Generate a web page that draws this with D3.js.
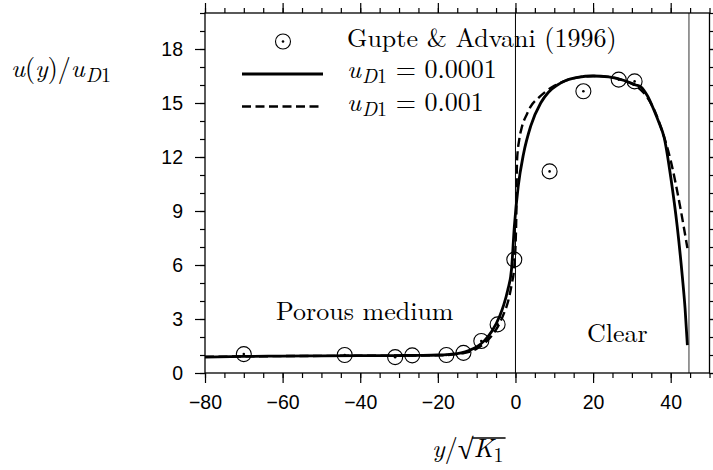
<!DOCTYPE html>
<html>
<head>
<meta charset="utf-8">
<script src="https://cdn.jsdelivr.net/npm/d3@7/dist/d3.min.js"></script>
<style>
	body { margin: 0; background: #fff; }
	svg { display: block; }
</style>
</head>
<body>
<script>
// measured velocity, Gupte & Advani (1996)
var expX = [-70, -44, -31, -26.6, -17.8, -13.4, -8.8, -4.6, -0.3, 8.8, 17.5, 26.6, 30.7];
var expU = [1.05, 1.0, 0.88, 0.98, 1.0, 1.12, 1.78, 2.7, 6.3, 11.2, 15.65, 16.3, 16.2];

// model, uD1 = 0.0001 (solid)
var lowX = [-80, -70, -60, -50, -40, -30, -25, -20, -17, -14, -12, -10, -8, -6, -4, -3, -2, -1, -0.3, 0.7, 2.1, 3.9, 6.5, 8.5, 10.8, 13, 16, 20, 24, 28, 31, 32.3, 34, 35.7, 37, 38.3, 40, 41.7, 43, 43.7, 44.3];
var lowU = [0.88, 0.92, 0.94, 0.95, 0.96, 0.97, 0.98, 1.0, 1.04, 1.12, 1.25, 1.45, 1.8, 2.35, 3.2, 3.8, 4.6, 5.8, 8.1, 10.35, 12.2, 13.7, 15.0, 15.6, 16.0, 16.25, 16.42, 16.5, 16.45, 16.25, 16.0, 15.9, 15.4, 14.6, 13.9, 13.1, 10.9, 8.1, 5.35, 3.6, 1.55];

// model, uD1 = 0.001 (dashed)
var highX = [-80, -70, -60, -50, -40, -30, -20, -14, -10, -8, -6, -4, -3, -2, -1, -0.3, 0.2, 0.4, 1, 1.7, 3, 3.9, 6, 7.3, 10, 12.4, 16.8, 20, 24, 28, 31, 34, 36, 37.4, 40, 42.6, 44.3];
var highU = [0.9, 0.92, 0.94, 0.95, 0.96, 0.97, 0.98, 1.08, 1.35, 1.65, 2.1, 2.8, 3.3, 3.9, 4.9, 5.9, 8.5, 11.8, 13.0, 13.7, 14.4, 14.8, 15.3, 15.55, 15.95, 16.2, 16.45, 16.5, 16.45, 16.25, 15.95, 15.3, 14.5, 13.7, 11.8, 9.05, 6.94];

var xTicks = [-80, -60, -40, -20, 0, 20, 40];
var yTicks = [0, 3, 6, 9, 12, 15, 18];
var interfaceX = 0;
var wallX = 44.7;

var W = 713, H = 470;
var margin = { left: 205, right: 3.5, top: 13, bottom: 97 };

var x = d3.scaleLinear().domain([-80, 50]).range([margin.left, W - margin.right]);
var y = d3.scaleLinear().domain([0, 20]).range([H - margin.bottom, margin.top]);

var roman = "'Latin Modern Roman', 'Liberation Serif', serif";
var sans = "'Liberation Sans', Arial, sans-serif";
var dash = "9,4.5";

var svg = d3.select("body").append("svg")
	.attr("width", W)
	.attr("height", H);

// vertical lines: interface and wall
svg.append("line")
	.attr("x1", x(interfaceX)).attr("x2", x(interfaceX))
	.attr("y1", y(0)).attr("y2", y(20))
	.attr("stroke", "#000").attr("stroke-width", 1);
svg.append("line")
	.attr("x1", x(wallX)).attr("x2", x(wallX))
	.attr("y1", y(0)).attr("y2", y(20))
	.attr("stroke", "#808080").attr("stroke-width", 1.6);

// axes, major + minor, on all four sides
function fmt(d) { return d3.format("d")(d); }
var xMinor = d3.range(-80, 51, 5);
var yMinor = d3.range(0, 21, 1);

function addAxis(axis, tr, minor, labels) {
	var g = svg.append("g").attr("transform", tr);
	g.call(axis.tickValues(minor).tickSize(5).tickFormat(""));
	g.selectAll(".domain").remove();
	var g2 = svg.append("g").attr("transform", tr);
	g2.call(labels);
	g2.selectAll(".domain").remove();
	return g2;
}

addAxis(d3.axisBottom(x), "translate(0," + y(0) + ")", xMinor,
	d3.axisBottom(x).tickValues(xTicks).tickSize(10).tickPadding(12).tickFormat(fmt));
addAxis(d3.axisTop(x), "translate(0," + y(20) + ")", xMinor,
	d3.axisTop(x).tickValues(xTicks).tickSize(10).tickFormat(""));
addAxis(d3.axisLeft(y), "translate(" + x(-80) + ",0)", yMinor,
	d3.axisLeft(y).tickValues(yTicks).tickSize(10).tickPadding(12).tickFormat(fmt));
addAxis(d3.axisRight(y), "translate(" + x(50) + ",0)", yMinor,
	d3.axisRight(y).tickValues(yTicks).tickSize(10).tickFormat(""));

svg.selectAll(".tick line").attr("stroke", "#000").attr("stroke-width", 1.2);
svg.selectAll(".tick text")
	.style("font-family", sans)
	.style("font-size", "19.5px")
	.style("fill", "#000");

// frame
svg.append("rect")
	.attr("x", x(-80)).attr("y", y(20))
	.attr("width", x(50) - x(-80)).attr("height", y(0) - y(20))
	.attr("fill", "none").attr("stroke", "#000").attr("stroke-width", 1.3);

// model curves
var line = d3.line()
	.x(function (d) { return x(d[0]); })
	.y(function (d) { return y(d[1]); })
	.curve(d3.curveMonotoneX);

svg.append("path")
	.datum(d3.zip(lowX, lowU))
	.attr("d", line)
	.attr("fill", "none").attr("stroke", "#000").attr("stroke-width", 2.8);

svg.append("path")
	.datum(d3.zip(highX, highU))
	.attr("d", line)
	.attr("fill", "none").attr("stroke", "#000").attr("stroke-width", 2.4)
	.attr("stroke-dasharray", dash);

// experimental points
var pts = svg.selectAll(".pt")
	.data(d3.zip(expX, expU))
	.enter().append("g")
	.attr("transform", function (d) { return "translate(" + x(d[0]) + "," + y(d[1]) + ")"; });
pts.append("circle").attr("r", 7.5).attr("fill", "none").attr("stroke", "#000").attr("stroke-width", 1.1);
pts.append("circle").attr("r", 1.3).attr("fill", "#000");

// legend
var lg = svg.append("g");
lg.append("circle").attr("cx", 283).attr("cy", 41.5).attr("r", 7.5)
	.attr("fill", "none").attr("stroke", "#000").attr("stroke-width", 1.1);
lg.append("circle").attr("cx", 283).attr("cy", 41.5).attr("r", 1.3).attr("fill", "#000");
lg.append("line").attr("x1", 242).attr("x2", 323).attr("y1", 74).attr("y2", 74)
	.attr("stroke", "#000").attr("stroke-width", 2.8);
lg.append("line").attr("x1", 242).attr("x2", 323).attr("y1", 106.5).attr("y2", 106.5)
	.attr("stroke", "#000").attr("stroke-width", 2.4).attr("stroke-dasharray", dash);

function label(xp, yp, size) {
	return svg.append("text")
		.attr("x", xp).attr("y", yp)
		.style("font-family", roman)
		.style("font-size", size + "px")
		.style("fill", "#000");
}

label(347, 47, 26).text("Gupte & Advani (1996)");

function uD1(t, rest) {
	t.append("tspan").style("font-style", "italic").text("u");
	t.append("tspan").style("font-style", "italic").style("font-size", "20px").attr("dy", 5).attr("dx", 1).text("D");
	t.append("tspan").style("font-size", "20px").text("1");
	if (rest) t.append("tspan").attr("dy", -5).text(rest);
}
uD1(label(347, 78, 26), " = 0.0001");
uD1(label(347, 111, 26), " = 0.001");

// y label
var yl = label(11, 77, 26);
yl.append("tspan").style("font-style", "italic").text("u");
yl.append("tspan").text("(");
yl.append("tspan").style("font-style", "italic").text("y");
yl.append("tspan").text(")/");
uD1(yl);

// x label: y / sqrt(K1)
var xl = label(432, 457, 26);
xl.append("tspan").style("font-style", "italic").text("y");
xl.append("tspan").text("/");
xl.append("tspan").style("font-family", "'Liberation Serif', 'DejaVu Serif', serif").style("font-size", "29px").attr("dy", 2).text("\u221A");
xl.append("tspan").style("font-style", "italic").attr("dy", -2).text("K");
xl.append("tspan").style("font-size", "20px").attr("dy", 5).text("1");
var e0 = xl.node().getExtentOfChar(2);
var e1 = xl.node().getExtentOfChar(4);
svg.append("line")
	.attr("x1", e0.x + e0.width - 1.5).attr("x2", e1.x + e1.width + 2)
	.attr("y1", 438).attr("y2", 438)
	.attr("stroke", "#000").attr("stroke-width", 1.5);

// region labels
label(276, 320, 26).text("Porous medium");
label(587, 342, 26).text("Clear");
</script>
</body>
</html>
